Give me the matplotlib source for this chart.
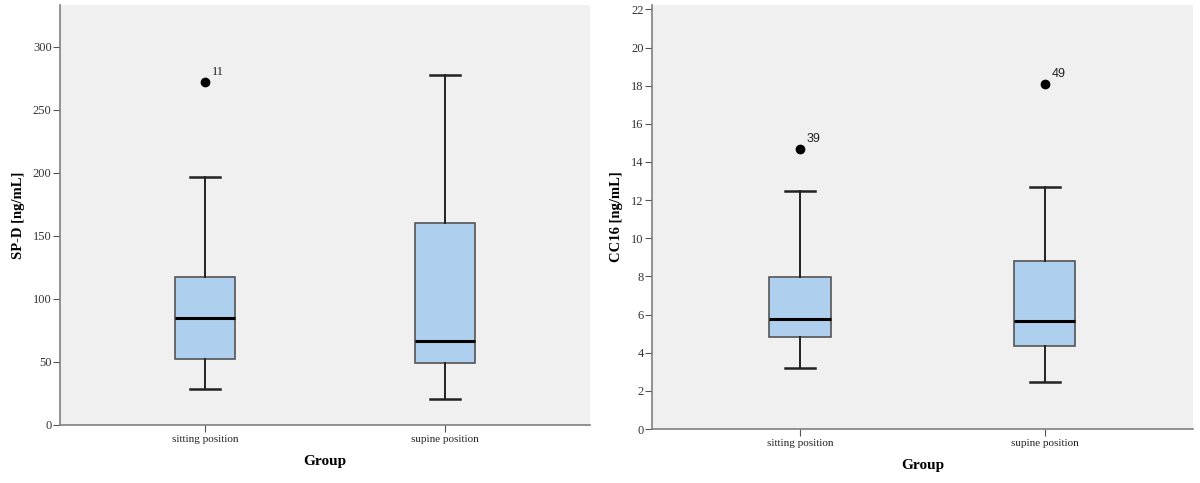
"""
Box plots of SP-D and CC16 by body position (sitting vs supine).
"""

import matplotlib
matplotlib.use("Agg")
import matplotlib.pyplot as plt

plt.rcParams["font.family"] = ["Liberation Serif", "DejaVu Serif"]

# Data
GROUPS = ["sitting position", "supine position"]

SPD_LOW    = [28.6, 20.9]
SPD_Q1     = [52.4, 49.5]
SPD_MED    = [84.7, 66.7]
SPD_Q3     = [117.7, 160.1]
SPD_HIGH   = [196.8, 277.2]
SPD_FLIERS = [[271.7], []]
SPD_FLIER_IDS = [["11"], []]

CC16_LOW    = [3.18, 2.48]
CC16_Q1     = [4.82, 4.37]
CC16_MED    = [5.77, 5.66]
CC16_Q3     = [7.95, 8.81]
CC16_HIGH   = [12.5, 12.69]
CC16_FLIERS = [[14.67], [18.09]]
CC16_FLIER_IDS = [["39"], ["49"]]

SPD_TICKS = [0, 50, 100, 150, 200, 250, 300]
CC16_TICKS = list(range(0, 23, 2))

BG = "#f0f0f0"
BOX_FILL = "#aecfee"
SPINE = "#808080"


def make_stats(low, q1, med, q3, high, fliers):
    return [dict(whislo=lo, q1=a, med=m, q3=b, whishi=hi, fliers=f, label=g)
            for lo, a, m, b, hi, f, g in zip(low, q1, med, q3, high, fliers, GROUPS)]


def draw_panel(ax, stats, flier_ids, ylabel, yticks, ylim, id_font):
    ax.set_facecolor(BG)
    ax.bxp(stats, positions=[1, 2], widths=0.25, patch_artist=True,
           boxprops=dict(facecolor=BOX_FILL, edgecolor="#555555", linewidth=1.2),
           medianprops=dict(color="black", linewidth=2.2),
           whiskerprops=dict(color="#222222", linewidth=1.4),
           capprops=dict(color="#222222", linewidth=1.8),
           capwidths=0.125,
           flierprops=dict(marker="o", markersize=6, markerfacecolor="black",
                           markeredgecolor="black"))
    for pos, st, ids in zip([1, 2], stats, flier_ids):
        for val, lab in zip(st["fliers"], ids):
            ax.annotate(lab, (pos, val), xytext=(5, 3), textcoords="offset points",
                        fontsize=9, ha="left", va="bottom", color="#222222",
                        family=id_font)

    ax.set_xlim(0.395, 2.605)
    ax.set_ylim(*ylim)
    ax.set_yticks(yticks)
    ax.set_xticks([1, 2])
    ax.set_xticklabels(GROUPS)
    ax.set_ylabel(ylabel, fontsize=10.5, fontweight="bold", labelpad=6)
    ax.set_xlabel("Group", fontsize=11, fontweight="bold", labelpad=8)

    for side in ("top", "right"):
        ax.spines[side].set_visible(False)
    for side in ("left", "bottom"):
        ax.spines[side].set_color(SPINE)
        ax.spines[side].set_linewidth(1.2)
    ax.tick_params(axis="y", length=5, color="#555555", labelsize=9,
                   labelcolor="#333333", pad=1)
    ax.tick_params(axis="x", length=5, color="#555555", labelsize=8,
                   labelcolor="#222222", pad=2)


fig = plt.figure(figsize=(12, 4.83), dpi=100)
ax1 = fig.add_axes([0.05, 0.1201, 0.4417, 0.8696])
ax2 = fig.add_axes([0.5433, 0.1118, 0.4508, 0.8778])

draw_panel(ax1, make_stats(SPD_LOW, SPD_Q1, SPD_MED, SPD_Q3, SPD_HIGH, SPD_FLIERS),
           SPD_FLIER_IDS, "SP-D [ng/mL]", SPD_TICKS, (0, 333), "Liberation Serif")
draw_panel(ax2, make_stats(CC16_LOW, CC16_Q1, CC16_MED, CC16_Q3, CC16_HIGH, CC16_FLIERS),
           CC16_FLIER_IDS, "CC16 [ng/mL]", CC16_TICKS, (0, 22.23), "Liberation Sans")

fig.savefig("out.png", dpi=100, facecolor="white")
